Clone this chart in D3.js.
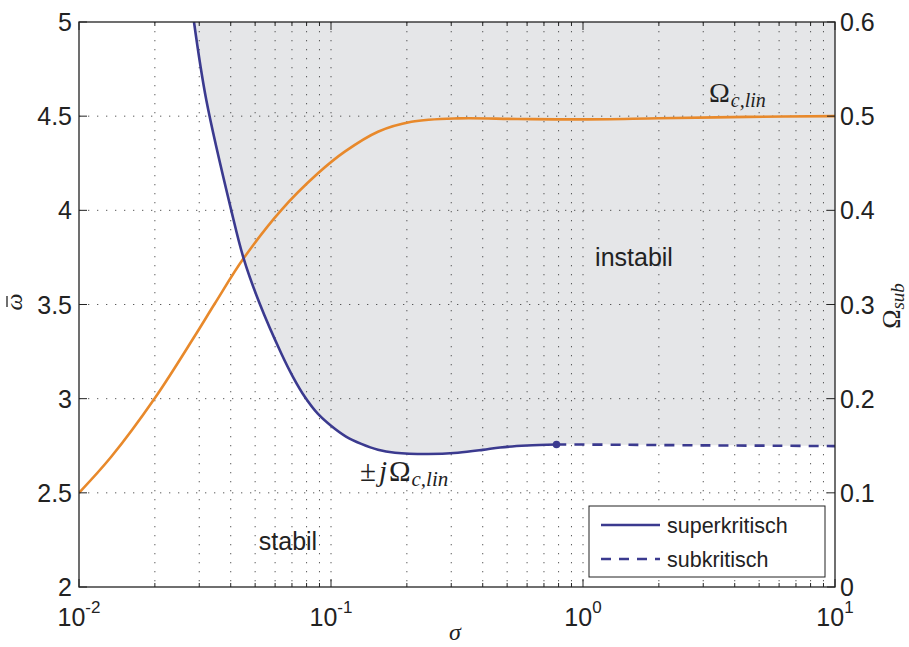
<!DOCTYPE html>
<html>
<head>
<meta charset="utf-8">
<script src="https://cdn.jsdelivr.net/npm/d3@7"></script>
<style>
  body { margin: 0; background: #fff; }
  svg text { font-family: "Liberation Sans", Arial, sans-serif; fill: #222; }
  .math { font-family: "Liberation Serif", "DejaVu Serif", serif; }
</style>
</head>
<body>
<div class="chart"></div>
<script>
// sigma vs. omega-bar (left axis), supercritical branch
const superSigma = [0.0286, 0.032, 0.0402, 0.045, 0.0521, 0.0635, 0.0707, 0.0788, 0.0888, 0.1003, 0.1147, 0.1319, 0.1536, 0.1795, 0.2427, 0.319, 0.4, 0.469, 0.6, 0.785];
const superOmega = [5.0, 4.586, 4.0, 3.745, 3.505, 3.24, 3.115, 3.009, 2.919, 2.855, 2.799, 2.760, 2.729, 2.713, 2.706, 2.713, 2.728, 2.741, 2.751, 2.757];
// subcritical branch (dashed)
const subSigma = [0.785, 1.5, 3, 6, 10];
const subOmega = [2.757, 2.755, 2.752, 2.750, 2.748];
// sigma vs. Omega_sub (right axis)
const ocSigma = [0.01, 0.0134, 0.01998, 0.0288, 0.0346, 0.045, 0.0635, 0.0888, 0.1134, 0.1536, 0.2085, 0.319, 0.55, 1, 2, 4.5, 10];
const ocOmega = [0.100, 0.138, 0.2004, 0.2665, 0.301, 0.349, 0.4003, 0.4393, 0.4623, 0.4835, 0.4941, 0.4977, 0.4970, 0.4966, 0.4978, 0.4992, 0.500];

const leftTicks = [2, 2.5, 3, 3.5, 4, 4.5, 5];
const rightTicks = [0, 0.1, 0.2, 0.3, 0.4, 0.5, 0.6];
const xTicks = [0.01, 0.1, 1, 10];
const legendLabels = ["superkritisch", "subkritisch"];

const blue = "#3b3a8f";
const orange = "#e8892b";

const margin = {left: 79, top: 22, right: 74, bottom: 60};
const W = 909, H = 647;
const w = W - margin.left - margin.right;
const h = H - margin.top - margin.bottom;

const svg = d3.select(".chart").append("svg")
    .attr("width", W).attr("height", H);
const g = svg.append("g")
    .attr("transform", "translate(" + margin.left + "," + margin.top + ")");

const x = d3.scaleLog().domain([0.01, 10]).range([0, w]);
const y = d3.scaleLinear().domain([2, 5]).range([h, 0]);
const y2 = d3.scaleLinear().domain([0, 0.6]).range([h, 0]);

g.append("clipPath").attr("id", "clip")
  .append("rect").attr("width", w).attr("height", h);

const curve = d3.curveCatmullRom.alpha(0.5);

// unstable region
const allSigma = superSigma.concat(subSigma.slice(1));
const allOmega = superOmega.concat(subOmega.slice(1));
const area = d3.area()
    .x((d, i) => x(allSigma[i]))
    .y0(y(5))
    .y1((d, i) => y(allOmega[i]))
    .curve(curve);
g.append("path")
    .attr("d", area(allSigma))
    .attr("fill", "#e5e6e8");

// grid
const minors = [];
[0.01, 0.1, 1].forEach(dec => { for (let k = 1; k <= 9; k++) minors.push(dec * k); });
minors.push(10);
const grid = g.append("g").attr("stroke", "#333").attr("stroke-width", 1)
    .attr("stroke-dasharray", "1.3,7.7").attr("opacity", 0.8);
grid.selectAll(".vx").data(minors.filter(v => v > 0.01 && v < 10)).join("line")
    .attr("x1", d => x(d)).attr("x2", d => x(d))
    .attr("y1", 0).attr("y2", h);
grid.selectAll(".hy").data(leftTicks.slice(1, -1)).join("line")
    .attr("x1", 0).attr("x2", w)
    .attr("y1", d => y(d)).attr("y2", d => y(d));

// curves
const line = d3.line().curve(curve);
const clipped = g.append("g").attr("clip-path", "url(#clip)");
clipped.append("path")
    .attr("d", line(ocSigma.map((s, i) => [x(s), y2(ocOmega[i])])))
    .attr("fill", "none").attr("stroke", orange).attr("stroke-width", 2.6);
clipped.append("path")
    .attr("d", line(superSigma.map((s, i) => [x(s), y(superOmega[i])])))
    .attr("fill", "none").attr("stroke", blue).attr("stroke-width", 2.6);
clipped.append("path")
    .attr("d", line(subSigma.map((s, i) => [x(s), y(subOmega[i])])))
    .attr("fill", "none").attr("stroke", blue).attr("stroke-width", 2.6)
    .attr("stroke-dasharray", "10,8");
g.append("circle")
    .attr("cx", x(superSigma[superSigma.length - 1]))
    .attr("cy", y(superOmega[superOmega.length - 1]))
    .attr("r", 3.8).attr("fill", blue);

// frame and ticks
g.append("rect").attr("width", w).attr("height", h)
    .attr("fill", "none").attr("stroke", "#222").attr("stroke-width", 1.3);
const ticks = g.append("g").attr("stroke", "#222").attr("stroke-width", 1);
minors.forEach(v => {
  const len = xTicks.includes(v) ? 8 : 4;
  ticks.append("line").attr("x1", x(v)).attr("x2", x(v)).attr("y1", h).attr("y2", h - len);
  ticks.append("line").attr("x1", x(v)).attr("x2", x(v)).attr("y1", 0).attr("y2", len);
});
leftTicks.forEach(v => {
  ticks.append("line").attr("x1", 0).attr("x2", 8).attr("y1", y(v)).attr("y2", y(v));
});
rightTicks.forEach(v => {
  ticks.append("line").attr("x1", w).attr("x2", w - 8).attr("y1", y2(v)).attr("y2", y2(v));
});

// tick labels
g.selectAll(".lt").data(leftTicks).join("text")
    .attr("x", -7).attr("y", d => y(d) + 9)
    .attr("text-anchor", "end").attr("font-size", 25)
    .text(d => d);
g.selectAll(".rt").data(rightTicks).join("text")
    .attr("x", w + 5).attr("y", d => y2(d) + 9)
    .attr("font-size", 25)
    .text(d => d);
xTicks.forEach(v => {
  const t = g.append("text").attr("x", x(v)).attr("y", h + 39)
      .attr("text-anchor", "middle").attr("font-size", 25);
  t.append("tspan").text("10");
  t.append("tspan").attr("dy", -13).attr("font-size", 17).text(Math.round(Math.log10(v)));
});

// axis titles
svg.append("text").attr("class", "math").attr("font-style", "italic")
    .attr("x", 455).attr("y", 640).attr("text-anchor", "middle")
    .attr("font-size", 24).text("σ");
const wl = svg.append("g").attr("transform", "translate(22,302) rotate(-90)");
wl.append("text").attr("class", "math").attr("font-style", "italic")
    .attr("text-anchor", "middle").attr("font-size", 24).text("ω");
wl.append("line").attr("x1", -5).attr("x2", 6).attr("y1", -15).attr("y2", -15)
    .attr("stroke", "#222").attr("stroke-width", 1.3);
const rl = svg.append("text").attr("class", "math")
    .attr("transform", "translate(900,306) rotate(-90)")
    .attr("text-anchor", "middle").attr("font-size", 26);
rl.append("tspan").text("Ω");
rl.append("tspan").attr("dy", 4).attr("font-size", 19).attr("font-style", "italic").text("sub");

// annotations
g.append("text").attr("x", 555).attr("y", 244).attr("text-anchor", "middle")
    .attr("font-size", 25).text("instabil");
g.append("text").attr("x", 209).attr("y", 528).attr("text-anchor", "middle")
    .attr("font-size", 25).text("stabil");
const a1 = g.append("text").attr("class", "math").attr("x", 630).attr("y", 80)
    .attr("font-size", 28);
a1.append("tspan").text("Ω");
a1.append("tspan").attr("dy", 5).attr("dx", 1).attr("font-size", 20).attr("font-style", "italic").text("c,lin");
const a2 = g.append("text").attr("class", "math").attr("x", 281).attr("y", 459)
    .attr("font-size", 29);
a2.append("tspan").text("±");
a2.append("tspan").attr("dx", 3).attr("font-style", "italic").text("j");
a2.append("tspan").attr("dx", 2).text("Ω");
a2.append("tspan").attr("dy", 5).attr("dx", 1).attr("font-size", 21).attr("font-style", "italic").text("c,lin");

// legend
const lg = g.append("g").attr("transform", "translate(510,484)");
lg.append("rect").attr("width", 236).attr("height", 71)
    .attr("fill", "#fff").attr("stroke", "#222").attr("stroke-width", 1);
legendLabels.forEach((lab, i) => {
  const ly = 19 + i * 34;
  lg.append("line").attr("x1", 12).attr("x2", 71).attr("y1", ly).attr("y2", ly)
      .attr("stroke", blue).attr("stroke-width", 2.6)
      .attr("stroke-dasharray", i === 1 ? "10,8" : null);
  lg.append("text").attr("x", 78).attr("y", ly + 8).attr("font-size", 21.5).text(lab);
});
</script>
</body>
</html>
